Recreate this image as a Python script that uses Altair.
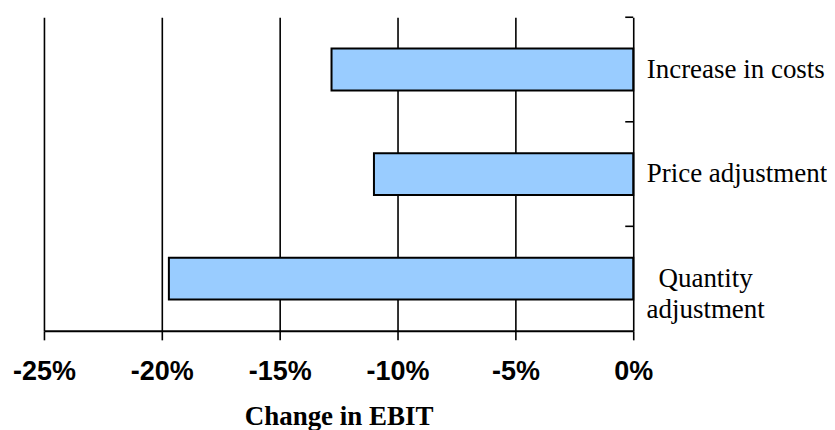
import altair as alt
import pandas as pd

categories = ["Increase in costs", "Price adjustment", "Quantity adjustment"]
changes = [-12.8, -11.0, -19.7]
x_ticks = [-25, -20, -15, -10, -5, 0]

df = pd.DataFrame({"category": categories, "change": changes})

W, H = 590, 314

yscale = alt.Scale(paddingInner=0.6, paddingOuter=0.3)
xscale = alt.Scale(domain=[-25, 0], nice=False)

x_axis = alt.Axis(
    values=x_ticks,
    labelExpr="datum.value + '%'",
    labelFlush=False,
    grid=True, gridColor="black", gridWidth=1.6, gridOpacity=1,
    domain=True, domainColor="black", domainWidth=2,
    ticks=True, tickColor="black", tickWidth=1.6, tickSize=9,
    labelFont="Liberation Sans", labelFontSize=27, labelFontWeight="bold",
    labelColor="black", labelPadding=19,
    title="Change in EBIT", titleFont="Liberation Serif", titleFontSize=27,
    titleFontWeight="bold", titleColor="black",
    titleBaseline="alphabetic", titleY=94,
)

is_qty = "datum.value == 'Quantity adjustment'"
label_expr = ("datum.value == 'Quantity adjustment' ? "
              "['Quantity', 'adjustment'] : datum.label")

bars = alt.Chart(df).mark_bar(fill="#99CCFF", stroke="black", strokeWidth=2).encode(
    x=alt.X("change:Q", scale=xscale, axis=x_axis),
    y=alt.Y(
        "category:N", sort=None, scale=yscale,
        axis=alt.Axis(
            orient="right", ticks=False, tickSize=0, domain=False, grid=False,
            labelPadding={"condition": {"test": is_qty, "value": 72}, "value": 13},
            labelAlign={"condition": {"test": is_qty, "value": "center"}, "value": "left"},
            labelFont="Liberation Serif", labelFontSize=27,
            labelColor="black", labelLimit=400, labelLineHeight=31,
            labelExpr=label_expr, title=None,
        ),
    ),
)

# inward-pointing category separator ticks on the right-hand (0%) axis
sep_ticks = alt.Chart(df).mark_rule(color="black", strokeWidth=1.6, x2Offset=-8).encode(
    x=alt.XDatum(0),
    x2=alt.X2Datum(0),
    y=alt.Y(
        "category:N", sort=None, bandPosition=0,
        scale=alt.Scale(paddingInner=0, paddingOuter=0),
        axis=None,
    ),
)

chart = (
    alt.layer(bars, sep_ticks)
    .resolve_scale(y="independent")
    .properties(width=W, height=H, padding={"left": 4, "top": 8, "right": 0, "bottom": 0})
    .configure_view(stroke=None)
)

chart.save("out.html", embed_options={"renderer": "svg", "actions": False})
